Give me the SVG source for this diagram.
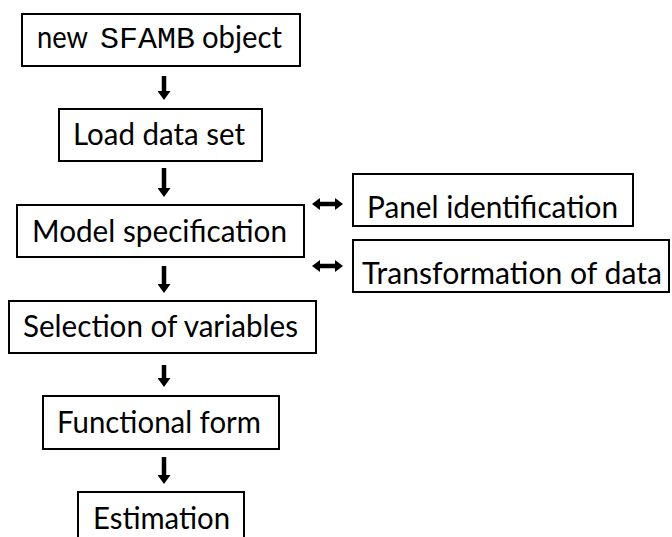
<svg xmlns="http://www.w3.org/2000/svg" width="672" height="537" viewBox="0 0 672 537">
<defs>
<style>
.box{fill:#fff;stroke:#000;stroke-width:2}
.t{font-family:Lato,"Open Sans","Liberation Sans",sans-serif;font-size:30px;fill:#000}
.m{font-family:"Liberation Mono","Courier New",monospace;font-size:30px;fill:#000}
.c{stroke:#000;stroke-width:4.5;fill:none}
</style>
<marker id="ah" markerUnits="userSpaceOnUse" markerWidth="9" markerHeight="13" refX="0" refY="6.5" orient="auto-start-reverse">
<path d="M0,0 L9,6.5 L0,13 z" fill="#000"/>
</marker>
<marker id="dh" markerUnits="userSpaceOnUse" markerWidth="8" markerHeight="12" refX="0" refY="6" orient="auto-start-reverse">
<path d="M0,0 L8,6 L0,12 z" fill="#000"/>
</marker>
</defs>
<rect width="672" height="537" fill="#fff"/>
<g id="connectors">
<line class="c" x1="164" y1="76" x2="164" y2="91" marker-end="url(#ah)"/>
<line class="c" x1="164" y1="168" x2="164" y2="188" marker-end="url(#ah)"/>
<line class="c" x1="164" y1="266" x2="164" y2="284" marker-end="url(#ah)"/>
<line class="c" x1="164" y1="365" x2="164" y2="378" marker-end="url(#ah)"/>
<line class="c" x1="164" y1="457" x2="164" y2="475" marker-end="url(#ah)"/>
<line class="c" x1="320" y1="204" x2="335" y2="204" marker-start="url(#dh)" marker-end="url(#dh)"/>
<line class="c" x1="320" y1="266" x2="335" y2="266" marker-start="url(#dh)" marker-end="url(#dh)"/>
</g>
<g id="n1">
<rect class="box" x="22" y="14" width="278" height="52"/>
<text class="t" x="37" y="48" textLength="51" lengthAdjust="spacingAndGlyphs">new</text>
<text class="m" x="100" y="48" textLength="95" lengthAdjust="spacingAndGlyphs">SFAMB</text>
<text class="t" x="202" y="48" textLength="80" lengthAdjust="spacingAndGlyphs">object</text>
</g>
<g id="n2">
<rect class="box" x="59" y="109" width="203" height="52"/>
<text class="t" x="73" y="145" textLength="172" lengthAdjust="spacingAndGlyphs">Load data set</text>
</g>
<g id="n3">
<rect class="box" x="17" y="205" width="287" height="52"/>
<text class="t" x="32" y="242" textLength="255" lengthAdjust="spacingAndGlyphs">Model specification</text>
</g>
<g id="n4">
<rect class="box" x="353" y="174" width="280" height="52"/>
<text class="t" x="367" y="218" textLength="251" lengthAdjust="spacingAndGlyphs">Panel identification</text>
</g>
<g id="n5">
<rect class="box" x="353" y="240" width="316" height="52"/>
<text class="t" x="362" y="284" textLength="300" lengthAdjust="spacingAndGlyphs">Transformation of data</text>
</g>
<g id="n6">
<rect class="box" x="9" y="301" width="307" height="52"/>
<text class="t" x="23" y="337" textLength="275" lengthAdjust="spacingAndGlyphs">Selection of variables</text>
</g>
<g id="n7">
<rect class="box" x="43" y="396" width="236" height="53"/>
<text class="t" x="57" y="433" textLength="204" lengthAdjust="spacingAndGlyphs">Functional form</text>
</g>
<g id="n8">
<rect class="box" x="78" y="492" width="166" height="60"/>
<text class="t" x="93" y="529" textLength="137" lengthAdjust="spacingAndGlyphs">Estimation</text>
</g>
</svg>
